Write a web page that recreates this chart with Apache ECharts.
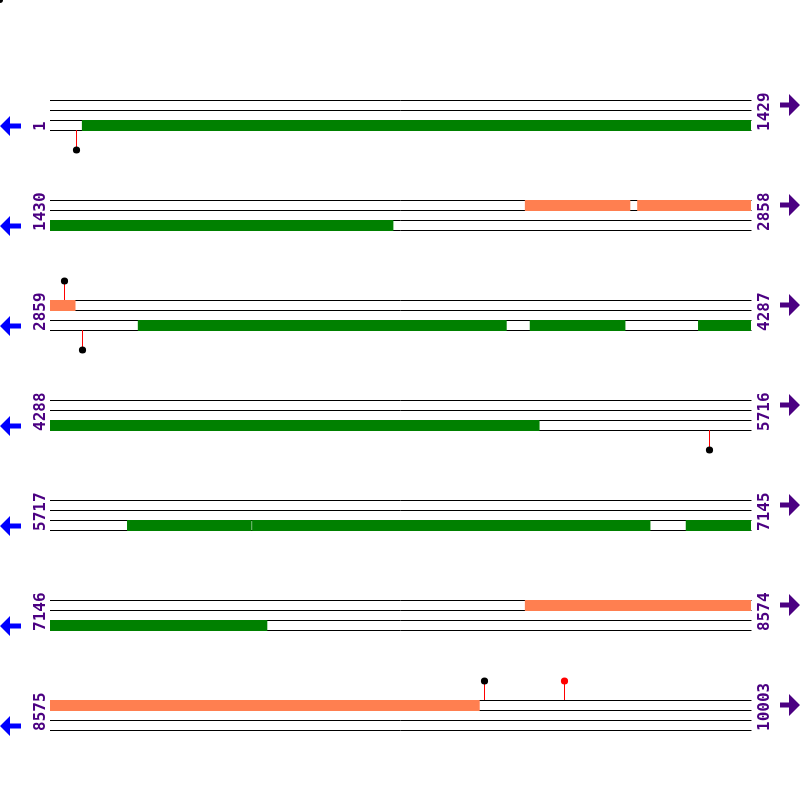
<!DOCTYPE html>
<html>
<head>
<meta charset="utf-8">
<script src="https://cdn.jsdelivr.net/npm/echarts@6/dist/echarts.min.js"></script>
<style>html,body{margin:0;padding:0;background:#fff}#c{width:800px;height:800px}</style>
</head>
<body>
<div id="c"></div>
<script>
// ---- data ----
const rowLength = 1429;
const rowStarts = [1, 1430, 2859, 4288, 5717, 7146, 8575];
const rowEnds = [1429, 2858, 4287, 5716, 7145, 8574, 10003];
const forwardFeatures = [[2398, 2612], [2627, 2910], [8114, 9450]];
const reverseFeatures = [[66, 2129], [3038, 3789], [3837, 4031], [4180, 5285], [5874, 6127], [6129, 6940], [7013, 7588]];
const sitesAbove = [2888, 9460, 9623];
const sitesAboveDotColor = ['#000000', '#000000', '#ff0000'];
const sitesBelow = [53, 2924, 5631];
const sitesBelowDotColor = ['#000000', '#000000', '#000000'];

const FWD_COLOR = '#FF7F50', REV_COLOR = '#008000', LABEL_COLOR = '#4B0082';
const LABEL_FONT = 'bold 16px "DejaVu Sans Mono"';

const chart = echarts.init(document.getElementById('c'), null, {renderer: 'canvas'});
const grids = [], xAxes = [], yAxes = [], series = [];

function renderItem(item, api) {
  if (item.kind === 'line') {
    const p0 = api.coord([item.x0, item.y]), p1 = api.coord([item.x1, item.y]);
    const y = Math.round(p0[1]) + 0.5;
    return {type: 'line', shape: {x1: p0[0], y1: y, x2: p1[0] + 0.5, y2: y}, style: {stroke: '#000', lineWidth: 1}};
  }
  if (item.kind === 'box') {
    const p0 = api.coord([item.x0, item.track]), p1 = api.coord([item.x1, item.track + 1]);
    const y0 = Math.round(p0[1]), y1 = Math.round(p1[1]) + 1;
    return {type: 'rect', shape: {x: p0[0], y: y0, width: p1[0] - p0[0], height: y1 - y0}, style: {fill: item.color}, z2: 5};
  }
  if (item.kind === 'site') {
    const p = api.coord([item.x, item.y]);
    const x = Math.round(p[0]) + 0.5;
    const ys = Math.round(p[1]);
    const ye = ys + item.dir * (item.dir < 0 ? 19 : 20);
    return {type: 'group', children: [
      {type: 'line', shape: {x1: x, y1: ys, x2: x, y2: ye}, style: {stroke: '#ff0000', lineWidth: 1}},
      {type: 'circle', shape: {cx: x, cy: ye, r: 3.6}, style: {fill: item.dot}}
    ]};
  }
  if (item.kind === 'decor') {
    const bl = api.coord([item.x0, 3]), tr = api.coord([item.x1, 0]), br = api.coord([item.x1, 3]);
    const cyL = bl[1] - 4, cyR = tr[1] + 5;
    const lx = bl[0] - 50, rx = tr[0] + 29;
    return {type: 'group', children: [
      {type: 'text', x: bl[0] - 9, y: bl[1] + 1, rotation: Math.PI / 2,
        style: {text: String(item.startLabel), fill: LABEL_COLOR, font: LABEL_FONT, align: 'left', verticalAlign: 'middle'}},
      {type: 'text', x: tr[0] + 14, y: br[1] + 1, rotation: Math.PI / 2,
        style: {text: String(item.endLabel), fill: LABEL_COLOR, font: LABEL_FONT, align: 'left', verticalAlign: 'middle'}},
      {type: 'polygon', shape: {points: [[lx, cyL], [lx + 10, cyL - 10], [lx + 10, cyL - 2.5], [lx + 21, cyL - 2.5], [lx + 21, cyL + 2.5], [lx + 10, cyL + 2.5], [lx + 10, cyL + 10]]}, style: {fill: '#0000ff'}},
      {type: 'polygon', shape: {points: [[rx, cyR - 2.5], [rx + 9, cyR - 2.5], [rx + 9, cyR - 11], [rx + 20, cyR], [rx + 9, cyR + 11], [rx + 9, cyR + 2.5], [rx, cyR + 2.5]]}, style: {fill: LABEL_COLOR}}
    ]};
  }
  return null;
}

rowStarts.forEach((start, r) => {
  const min = start - 1, max = rowEnds[r];
  grids.push({left: 50, right: 49, top: 100 + 100 * r, height: 30});
  xAxes.push({type: 'value', gridIndex: r, min: min, max: max, show: false});
  yAxes.push({type: 'value', gridIndex: r, min: 0, max: 3, inverse: true, show: false});
  const items = [];
  [0, 1, 2, 3].forEach(y => items.push({kind: 'line', x0: min, x1: max, y: y}));
  const addBoxes = (list, track, color) => list.forEach(f => {
    const a = Math.max(f[0] - 1, min), b = Math.min(f[1], max);
    if (b > a) items.push({kind: 'box', x0: a, x1: b, track: track, color: color});
  });
  addBoxes(forwardFeatures, 0, FWD_COLOR);
  addBoxes(reverseFeatures, 2, REV_COLOR);
  sitesAbove.forEach((s, i) => { if (s >= start && s <= max) items.push({kind: 'site', x: s - 0.5, y: 0, dir: -1, dot: sitesAboveDotColor[i]}); });
  sitesBelow.forEach((s, i) => { if (s >= start && s <= max) items.push({kind: 'site', x: s - 0.5, y: 3, dir: 1, dot: sitesBelowDotColor[i]}); });
  items.push({kind: 'decor', x0: min, x1: max, startLabel: start, endLabel: rowEnds[r]});
  series.push({
    type: 'custom', xAxisIndex: r, yAxisIndex: r, silent: true, animation: false, clip: false,
    data: items.map(it => [it.x0 !== undefined ? it.x0 : it.x, 0]),
    renderItem: (params, api) => renderItem(items[params.dataIndex], api)
  });
});

chart.setOption({
  animation: false,
  grid: grids, xAxis: xAxes, yAxis: yAxes, series: series,
  graphic: [{type: 'circle', shape: {cx: 0, cy: 0, r: 3}, style: {fill: '#000'}}]
});
</script>
</body>
</html>
